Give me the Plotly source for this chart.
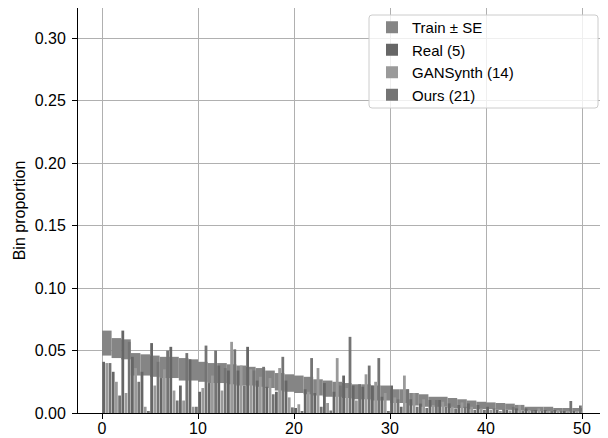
import numpy as np
import plotly.graph_objects as go

bins = np.arange(50)

train_mean = [0.056, 0.052, 0.051, 0.039, 0.0385, 0.0375, 0.0365, 0.0365, 0.035, 0.0345,
              0.033, 0.032, 0.032, 0.031, 0.030, 0.0295, 0.0285, 0.027, 0.025, 0.024,
              0.023, 0.022, 0.0205, 0.0195, 0.019, 0.018, 0.017, 0.017, 0.016, 0.016,
              0.0135, 0.0135, 0.011, 0.010, 0.009, 0.009, 0.008, 0.0075, 0.0065, 0.006,
              0.00575, 0.00525, 0.005, 0.00425, 0.00325, 0.00325, 0.00325, 0.0026, 0.0026, 0.0026]
train_se = [0.010, 0.008, 0.008, 0.009, 0.0085, 0.0085, 0.0085, 0.0085, 0.009, 0.0085,
            0.008, 0.008, 0.008, 0.008, 0.008, 0.0075, 0.0075, 0.007, 0.007, 0.007,
            0.007, 0.007, 0.0065, 0.0065, 0.006, 0.006, 0.006, 0.006, 0.006, 0.006,
            0.0055, 0.0055, 0.005, 0.005, 0.004, 0.004, 0.004, 0.0035, 0.0035, 0.003,
            0.00275, 0.00275, 0.0025, 0.00225, 0.00175, 0.00175, 0.00175, 0.0014, 0.0014, 0.0014]

real = [0.041, 0.033, 0.066, 0.045, 0.033, 0.056, 0.028, 0.053, 0.022, 0.043,
        0.017, 0.024, 0.038, 0.034, 0.034, 0.053, 0.026, 0.021, 0.017, 0.026,
        0.004, 0.019, 0.016, 0.024, 0.017, 0.030, 0.022, 0.021, 0.022, 0.013,
        0.022, 0.005, 0.011, 0.0075, 0.0104, 0.0104, 0.0077, 0.0064, 0.0077, 0.0064,
        0.005, 0.0024, 0.0024, 0.0037, 0.0037, 0.0024, 0.0024, 0.0024, 0.0016, 0.0016]
gansynth = [0.040, 0.025, 0.016, 0.036, 0.005, 0.022, 0.035, 0.018, 0.010, 0.005,
            0.020, 0.030, 0.018, 0.057, 0.038, 0.035, 0.029, 0.028, 0.036, 0.0125,
            0.007, 0.017, 0.036, 0.008, 0.044, 0.020, 0.010, 0.031, 0.025, 0.016,
            0.0125, 0.030, 0.016, 0.011, 0.0064, 0.009, 0.005, 0.0085, 0.005, 0.0037,
            0.0024, 0.0016, 0.002, 0.0064, 0.0024, 0.0037, 0.0016, 0.0024, 0.001, 0.001]
ours = [0.040, 0.014, 0.057, 0.025, 0.001, 0.041, 0.050, 0.010, 0.048, 0.005,
        0.054, 0.050, 0.036, 0.051, 0.022, 0.034, 0.037, 0.015, 0.045, 0.0045,
        0.001, 0.044, 0.005, 0.002, 0.022, 0.061, 0.023, 0.038, 0.044, 0.001,
        0.011, 0.019, 0.005, 0.004, 0.0104, 0.005, 0.0037, 0.005, 0.0024, 0.0024,
        0.0037, 0.003, 0.005, 0.002, 0.0024, 0.001, 0.001, 0.001, 0.0096, 0.006]

x_ticks = [0, 10, 20, 30, 40, 50]
y_ticks = [0.0, 0.05, 0.10, 0.15, 0.20, 0.25, 0.30]

mean = np.array(train_mean)
se = np.array(train_se)

fig = go.Figure()
fig.add_trace(go.Bar(x=bins + 0.5, y=2 * se, base=mean - se, width=1.0,
                     marker_color="#858585", marker_line_width=0, name="Train ± SE"))

series = [("Real (5)", real, "#666666", 1 / 6),
          ("GANSynth (14)", gansynth, "#9a9a9a", 0.5),
          ("Ours (21)", ours, "#747474", 5 / 6)]
for name, vals, color, off in series:
    fig.add_trace(go.Bar(x=bins + off, y=vals, width=0.29, marker_color=color,
                         marker_line_width=0, name=name))

axis_common = dict(showline=True, linecolor="black", linewidth=1, mirror=True,
                   ticks="outside", ticklen=5, tickcolor="black", automargin=False,
                   showgrid=True, gridcolor="#b0b0b0", gridwidth=1, zeroline=False,
                   tickfont=dict(size=16, color="black"))

# page has an 8px body margin: figure is 600x430 drawn from (8, 8)
OFF = 8
pl, pr, pt, pb = 78, 606, 8, 413  # plot area in page pixels


def px(x):
    return (x - pl) / (pr - pl)


def py(y):
    return 1 - (y - pt) / (pb - pt)


# legend frame (matplotlib-like rounded box), page pixels
L, R, T, B = 369, 598, 15, 108
rx, ry = 3 / (pr - pl), 3 / (pb - pt)
x0, x1, y0, y1 = px(L), px(R), py(B), py(T)
path = (f"M {x0+rx},{y1} L {x1-rx},{y1} Q {x1},{y1} {x1},{y1-ry} "
        f"L {x1},{y0+ry} Q {x1},{y0} {x1-rx},{y0} L {x0+rx},{y0} "
        f"Q {x0},{y0} {x0},{y0+ry} L {x0},{y1-ry} Q {x0},{y1} {x0+rx},{y1} Z")

W, H = 608 - OFF, 438 - OFF
fig.update_layout(
    width=W, height=H,
    margin=dict(l=pl - OFF, r=W - (pr - OFF), t=pt - OFF, b=H - (pb - OFF)),
    paper_bgcolor="white", plot_bgcolor="white",
    barmode="overlay",
    font=dict(family="Liberation Sans, Arial, sans-serif", size=16, color="black"),
    xaxis=dict(range=[-2.5, 52.5], tickvals=x_ticks, ticklabelstandoff=-4,
               **axis_common),
    yaxis=dict(range=[0, 0.3244], tickvals=y_ticks, tickformat=".2f",
               ticklabelstandoff=3,
               title=dict(text="Bin proportion", font=dict(size=16), standoff=5),
               **axis_common),
    legend=dict(x=px(372), y=py(11), xanchor="left", yanchor="top",
                bgcolor="rgba(0,0,0,0)", borderwidth=0,
                font=dict(size=15), traceorder="normal"),
    shapes=[dict(type="path", path=path, xref="paper", yref="paper",
                 fillcolor="rgba(255,255,255,0.8)", line=dict(color="#cccccc", width=1),
                 layer="above")],
    showlegend=True,
)

fig.write_html("out.html")
